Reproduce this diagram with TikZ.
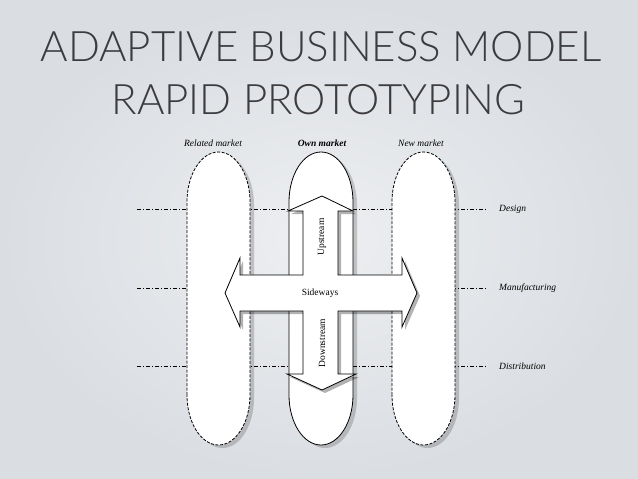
\documentclass[tikz,border=0pt]{standalone}
\usepackage{fontspec}
\setmainfont{Liberation Serif}
\newfontfamily\titlefont{Lato}[UprightFont={* Light}]
\usetikzlibrary{shadows}
\definecolor{bginner}{RGB}{237,239,241}
\definecolor{bgouter}{RGB}{218,221,226}
\definecolor{titlegray}{RGB}{60,60,62}
\tikzset{
  ddline/.style={black, line width=0.6pt, dash pattern=on 4pt off 2pt on 1pt off 2pt},
  pillside/.style={draw=black, fill=white, line width=0.8pt, dash pattern=on 3pt off 1.5pt,
     drop shadow={shadow xshift=4pt, shadow yshift=-3pt, opacity=0.18, fill=black}},
  pillown/.style={draw=black, fill=white, line width=0.8pt,
     drop shadow={shadow xshift=4pt, shadow yshift=-3pt, opacity=0.18, fill=black}},
  crossarrow/.style={draw=black, fill=white, line width=0.8pt, line join=miter,
     drop shadow={shadow xshift=3pt, shadow yshift=-3pt, opacity=0.3, fill=black}},
  lbl/.style={font=\fontsize{9.5}{11}\selectfont, inner sep=1pt},
  ttl/.style={font=\titlefont\fontsize{42}{46}\selectfont, text=titlegray, inner sep=0pt}
}
\begin{document}
\begin{tikzpicture}[x=1pt, y=-1pt]
\useasboundingbox (0,0) rectangle (638,479);
\shade[inner color=bginner, outer color=bgouter] (0,0) rectangle (638,479);

% title
\node[ttl] (title1) at (321,47) {ADAPTIVE BUSINESS MODEL};
\node[ttl] (title2) at (318.5,100) {RAPID PROTOTYPING};

% column labels
\node[lbl, font=\fontsize{9.5}{11}\selectfont\itshape] (rel) at (213,143) {Related market};
\node[lbl, font=\fontsize{9.5}{11}\selectfont\bfseries\itshape] (own) at (322,143) {Own market};
\node[lbl, font=\fontsize{9.5}{11}\selectfont\itshape] (new) at (421,143) {New market};

% row lines
\coordinate (d1) at (137,209); \coordinate (d2) at (487,209);
\coordinate (m1) at (137,288); \coordinate (m2) at (487,288);
\coordinate (s1) at (137,366); \coordinate (s2) at (487,366);
\draw[ddline] (d1) -- (d2);
\draw[ddline] (m1) -- (m2);
\draw[ddline] (s1) -- (s2);

\node[lbl, font=\fontsize{9.5}{11}\selectfont\itshape, anchor=west] (design) at (498,209) {Design};
\node[lbl, font=\fontsize{9.5}{11}\selectfont\itshape, anchor=west] (manuf) at (498,288) {Manufacturing};
\node[lbl, font=\fontsize{9.5}{11}\selectfont\itshape, anchor=west] (distr) at (498,366) {Distribution};

% pills
\path[pillside] (187,395) -- (187,202) .. controls (187,174.4) and (201.1,152) .. (218.5,152)
  .. controls (235.9,152) and (250,174.4) .. (250,202) -- (250,395)
  .. controls (250,422.6) and (235.9,445) .. (218.5,445)
  .. controls (201.1,445) and (187,422.6) .. (187,395) -- cycle;
\path[pillown] (289,395) -- (289,202) .. controls (289,174.4) and (303.3,152) .. (321,152)
  .. controls (338.7,152) and (353,174.4) .. (353,202) -- (353,395)
  .. controls (353,422.6) and (338.7,445) .. (321,445)
  .. controls (303.3,445) and (289,422.6) .. (289,395) -- cycle;
\path[pillside] (392,395) -- (392,202) .. controls (392,174.4) and (406.1,152) .. (423.5,152)
  .. controls (440.9,152) and (455,174.4) .. (455,202) -- (455,395)
  .. controls (455,422.6) and (440.9,445) .. (423.5,445)
  .. controls (406.1,445) and (392,422.6) .. (392,395) -- cycle;

% cross arrow
\path[crossarrow] (322,196) -- (353,211) -- (338,211) -- (338,275) -- (402,275) -- (402,258)
  -- (417,293) -- (402,327) -- (402,311) -- (338,311) -- (338,374) -- (356,374)
  -- (322,390) -- (287,374) -- (303,374) -- (303,311) -- (240,311) -- (240,327)
  -- (225,293) -- (240,258) -- (240,275) -- (303,275) -- (303,211) -- (288,211) -- cycle;

\node[lbl] (side) at (320,293) {Sideways};
\node[lbl, rotate=90] (up) at (322,237) {Upstream};
\node[lbl, rotate=90] (down) at (322,343) {Downstream};
\end{tikzpicture}
\end{document}
